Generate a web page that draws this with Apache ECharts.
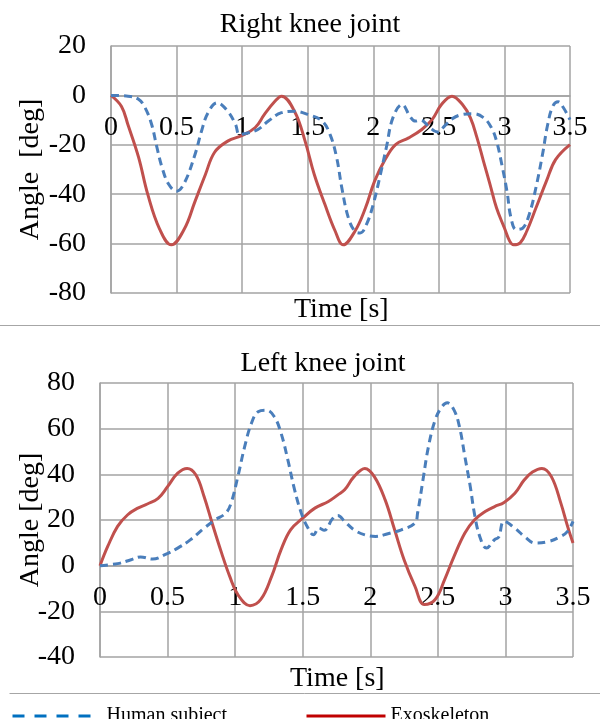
<!DOCTYPE html>
<html>
<head>
<meta charset="utf-8">
<script src="https://cdn.jsdelivr.net/npm/echarts@6/dist/echarts.min.js"></script>
<style>
html,body{margin:0;padding:0;background:#fff;}
#chart{width:600px;height:719px;}
</style>
</head>
<body>
<div id="chart"></div>
<script>
// ---- data (time [s], angle [deg]) ----
const rightHuman = [
 [0,0],[0.13,-0.3],[0.21,-1.6],[0.26,-5],[0.31,-11.8],[0.35,-21],[0.39,-29.3],[0.44,-36],[0.50,-38.8],
 [0.56,-35.4],[0.64,-24],[0.69,-14.5],[0.74,-7],[0.81,-3],[0.89,-6.4],[0.95,-11.8],[0.98,-15.8],
 [1.05,-15.1],[1.12,-13.8],[1.20,-10.4],[1.30,-7],[1.40,-6.4],[1.50,-7.7],[1.61,-10.4],[1.67,-15.8],
 [1.72,-25],[1.76,-37.4],[1.81,-49.6],[1.86,-55],[1.90,-55.7],[1.95,-52],[2.0,-44],[2.05,-33],
 [2.10,-21],[2.15,-9],[2.22,-3.7],[2.28,-8.5],[2.32,-10.4],[2.36,-10],[2.43,-13],[2.49,-14.8],
 [2.55,-12],[2.60,-9.5],[2.68,-7.7],[2.76,-7.4],[2.84,-9],[2.90,-13],[2.94,-18.5],[2.98,-28],
 [3.02,-39],[3.05,-49.6],[3.09,-54.3],[3.14,-53.7],[3.19,-48],[3.24,-37.4],[3.29,-24],[3.33,-11.8],
 [3.37,-4.3],[3.41,-2.6],[3.45,-5],[3.5,-9.8]
];
const rightExo = [
 [0,0],[0.08,-4.5],[0.13,-12],[0.21,-25],[0.28,-40],[0.37,-54],[0.46,-60.5],[0.56,-54],[0.64,-43],
 [0.72,-32],[0.79,-23],[0.89,-18.5],[1.0,-16.2],[1.10,-13],[1.17,-7.7],[1.25,-2.4],[1.30,-0.3],
 [1.40,-6.5],[1.48,-18.5],[1.55,-32],[1.63,-44],[1.71,-55],[1.77,-60.5],[1.86,-55],[1.94,-45.6],
 [2.01,-34.7],[2.09,-26],[2.17,-19.9],[2.27,-17.2],[2.37,-13.8],[2.45,-9.7],[2.52,-3.7],[2.60,-0.3],
 [2.68,-3.7],[2.74,-9],[2.79,-17],[2.84,-26.6],[2.89,-36],[2.94,-45.6],[3.0,-53.7],[3.04,-59],
 [3.07,-60.5],[3.12,-59.7],[3.17,-55],[3.24,-45.6],[3.32,-34.7],[3.39,-26],[3.5,-19.9]
];
const leftHuman = [
 [0,0],[0.13,0.9],[0.23,2.6],[0.30,3.8],[0.39,2.9],[0.48,4.8],[0.575,7.7],[0.67,11.4],[0.77,16.4],
 [0.85,20],[0.93,23],[0.97,27.4],[1.02,39],[1.07,52],[1.12,62.3],[1.17,67.4],[1.23,68.1],[1.29,65.2],
 [1.34,58],[1.39,46.3],[1.44,33.2],[1.49,23],[1.54,16.4],[1.58,13.5],[1.62,16.5],[1.66,15.5],
 [1.72,20.5],[1.76,22],[1.81,19.4],[1.88,15.7],[1.96,13.5],[2.04,12.8],[2.13,14],[2.23,15.7],
 [2.33,18.6],[2.35,23],[2.39,37.6],[2.43,52],[2.48,63.8],[2.53,69.6],[2.57,71.3],[2.62,68.1],
 [2.66,60.8],[2.70,47.7],[2.74,34.6],[2.77,23],[2.81,12.8],[2.86,7.7],[2.92,11.4],[2.95,12.5],
 [2.99,19.4],[3.07,16.4],[3.14,12.8],[3.22,9.9],[3.32,10.6],[3.41,12.8],[3.46,15],[3.5,19.4]
];
const leftExo = [
 [0,0],[0.057,8.4],[0.13,17.2],[0.205,22.3],[0.28,25.2],[0.35,27],[0.43,29.5],[0.5,34.6],[0.575,40.5],
 [0.645,42.6],[0.71,39.7],[0.77,30.3],[0.83,18.6],[0.90,5.5],[0.96,-4.7],[1.02,-12.7],[1.11,-17.5],
 [1.19,-14.8],[1.27,-4.7],[1.34,7],[1.41,15.7],[1.50,20.8],[1.59,25.2],[1.69,28.1],[1.76,31],
 [1.81,33.2],[1.88,39],[1.96,42.6],[2.03,39],[2.11,28.8],[2.18,15.7],[2.25,2.6],[2.33,-9],[2.40,-17],
 [2.48,-14.8],[2.55,-6.1],[2.62,4.1],[2.70,14.3],[2.77,20],[2.85,23.7],[2.92,25.9],[2.99,27.7],
 [3.07,31.7],[3.14,37.6],[3.20,41],[3.27,42.6],[3.34,39],[3.41,27.4],[3.46,17.2],[3.5,9.9]
];
const xTicks = [0, 3.5, 0.5];        // min, max, interval
const rightYTicks = [-80, 20, 20];
const leftYTicks = [-40, 80, 20];
const titles = ['Right knee joint', 'Left knee joint'];
const seriesNames = ['Human subject', 'Exoskeleton'];

// ---- styles / layout ----
const FONT = 'Liberation Serif';
const GRID_C = '#a3a3a3';
const BLUE = '#4a7ebb';
const RED = '#c0504d';
const grids = [
  { left: 111, top: 46, width: 459, height: 247 },
  { left: 100, top: 383, width: 473, height: 274 }
];
const yTickSets = [rightYTicks, leftYTicks];

function xAxis(gridIndex) {
  const t = yTickSets[gridIndex];
  // place the x axis on the zero line of its y axis
  const off = -grids[gridIndex].height * (0 - t[0]) / (t[1] - t[0]);
  return {
    type: 'value', gridIndex, min: xTicks[0], max: xTicks[1], interval: xTicks[2],
    position: 'bottom', offset: off,
    axisLine: { onZero: false, lineStyle: { color: GRID_C, width: 1.5 } },
    axisTick: { show: false },
    axisLabel: { color: '#000', fontFamily: FONT, fontSize: 28, margin: 18, formatter: v => String(v) },
    splitLine: { show: true, lineStyle: { color: GRID_C, width: 1.5 } }
  };
}
function yAxis(gridIndex, t, name, gap) {
  return {
    type: 'value', gridIndex, min: t[0], max: t[1], interval: t[2],
    name, nameLocation: 'middle', nameRotate: 90, nameGap: gap, nameMoveOverlap: false,
    nameTextStyle: { color: '#000', fontFamily: FONT, fontSize: 28 },
    axisLine: { show: true, onZero: false, lineStyle: { color: GRID_C, width: 1.5 } },
    axisTick: { show: false },
    axisLabel: { color: '#000', fontFamily: FONT, fontSize: 28, margin: 25 },
    splitLine: { show: true, lineStyle: { color: GRID_C, width: 1.5 } }
  };
}
function human(data, i) {
  return { name: seriesNames[0], type: 'line', xAxisIndex: i, yAxisIndex: i, data, smooth: 0.4,
    symbol: 'none', lineStyle: { color: BLUE, width: 3, type: [8, 5] }, itemStyle: { color: BLUE }, z: 3 };
}
function exo(data, i) {
  return { name: seriesNames[1], type: 'line', xAxisIndex: i, yAxisIndex: i, data, smooth: 0.4,
    symbol: 'none', lineStyle: { color: RED, width: 3 }, itemStyle: { color: RED }, z: 2 };
}
const hiddenSymbol = { color: 'rgba(0,0,0,0)', borderWidth: 0, opacity: 0 };

const chart = echarts.init(document.getElementById('chart'), null, { renderer: 'canvas' });
chart.setOption({
  animation: false,
  backgroundColor: '#fff',
  textStyle: { fontFamily: FONT },
  title: [
    { text: titles[0], left: 310, top: 11, textAlign: 'center', padding: 0,
      textStyle: { fontFamily: FONT, fontSize: 28, fontWeight: 'normal', color: '#000' } },
    { text: titles[1], left: 323, top: 350, textAlign: 'center', padding: 0,
      textStyle: { fontFamily: FONT, fontSize: 28, fontWeight: 'normal', color: '#000' } }
  ],
  legend: [
    { data: [{ name: seriesNames[0], itemStyle: hiddenSymbol,
               lineStyle: { color: '#0070c0', width: 3, type: [12, 10] } }],
      left: 11, top: 701, itemWidth: 79, itemHeight: 8, padding: 0, selectedMode: false,
      textStyle: { fontFamily: FONT, fontSize: 20, lineHeight: 8, color: '#000', padding: [0, 0, 22, 10] } },
    { data: [{ name: seriesNames[1], itemStyle: hiddenSymbol,
               lineStyle: { color: '#c00000', width: 3 } }],
      left: 305, top: 701, itemWidth: 79, itemHeight: 8, padding: 0, selectedMode: false,
      textStyle: { fontFamily: FONT, fontSize: 20, lineHeight: 8, color: '#000', padding: [0, 0, 22, 0] } }
  ],
  grid: grids.map(g => Object.assign({ containLabel: false }, g)),
  xAxis: [xAxis(0), xAxis(1)],
  yAxis: [yAxis(0, rightYTicks, 'Angle  [deg]', 66), yAxis(1, leftYTicks, 'Angle [deg]', 55)],
  series: [human(rightHuman, 0), exo(rightExo, 0), human(leftHuman, 1), exo(leftExo, 1)],
  graphic: [
    { type: 'text', left: 294, top: 296, style: { text: 'Time [s]', font: '28px "Liberation Serif"', fill: '#000' } },
    { type: 'text', left: 290, top: 665, style: { text: 'Time [s]', font: '28px "Liberation Serif"', fill: '#000' } },
    { type: 'line', shape: { x1: 0, y1: 325.5, x2: 600, y2: 325.5 }, style: { stroke: '#a6a6a6', lineWidth: 1 } },
    { type: 'line', shape: { x1: 9.5, y1: 693.5, x2: 600, y2: 693.5 }, style: { stroke: '#a6a6a6', lineWidth: 1 } }
  ]
});
</script>
</body>
</html>
